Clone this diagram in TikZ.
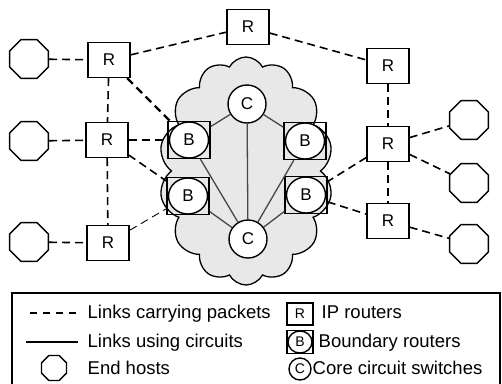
\documentclass[tikz,border=0pt]{standalone}
\usepackage{fontspec}
\setmainfont{Liberation Sans}
\usetikzlibrary{shapes.geometric,shapes.symbols}

\begin{document}
\begin{tikzpicture}[x=1pt,y=-1pt,line width=1.4pt,
    host node/.style={regular polygon,regular polygon sides=8,draw,inner sep=0pt,minimum size=42pt},
    router node/.style={rectangle,draw,fill=white,inner sep=0pt,minimum width=42pt,minimum height=35pt,
                        font=\fontsize{17}{17}\selectfont},
    boundary node/.style={rectangle,draw,inner sep=0pt,minimum width=42pt,minimum height=37pt,
                          font=\fontsize{17}{17}\selectfont,
                          path picture={\draw[fill=white] (path picture bounding box.center) ellipse (19.5pt and 18pt);}},
    core node/.style={circle,draw,fill=white,inner sep=0pt,minimum size=38pt,font=\fontsize{17}{17}\selectfont},
    packet/.style={dash pattern=on 8pt off 5pt,line width=1.6pt},
    circuit/.style={draw=black!72,line width=1.3pt},
    key text/.style={anchor=base west,inner sep=0pt,font=\fontsize{18.5}{18.5}\selectfont}]

  \useasboundingbox (0,0) rectangle (502,383);

  % circuit cloud
  \node[cloud,cloud puffs=14,cloud puff arc=125,cloud ignores aspect,draw,fill=black!9,line width=1.3pt,
        minimum width=174pt,minimum height=228pt] (cloud) at (246,171) {};

  % end hosts
  \node[host node] (hostA) at (29,59) {};
  \node[host node] (hostB) at (29,141) {};
  \node[host node] (hostC) at (29,242) {};
  \node[host node] (hostD) at (469,120) {};
  \node[host node] (hostE) at (469,183) {};
  \node[host node] (hostF) at (469,244) {};

  % IP routers
  \node[router node] (rT) at (248,27) {R};
  \node[router node] (rA) at (109,60) {R};
  \node[router node] (rB) at (107,140) {R};
  \node[router node] (rC) at (108,243) {R};
  \node[router node] (rD) at (388,66) {R};
  \node[router node] (rE) at (388,144) {R};
  \node[router node] (rF) at (388,221) {R};

  % boundary routers and core switches
  \node[boundary node] (bA) at (189,140) {B};
  \node[boundary node] (bB) at (188,196) {B};
  \node[boundary node] (bC) at (305,141) {B};
  \node[boundary node] (bD) at (306,195) {B};
  \node[core node] (cA) at (247,104) {C};
  \node[core node] (cB) at (248,239) {C};

  \path[circuit]
    (cA) edge (bA)
         edge (bC)
         edge (cB)
    (cB) edge (bA)
         edge (bB)
         edge (bC)
         edge (bD);

  \path[packet]
    (hostA) edge (rA)
    (rA) edge (rT)
         edge (rB)
         edge[line width=2.2pt] (bA)
    (hostB) edge (rB)
    (rB) edge (bA)
         edge (bB)
         edge (rC)
    (hostC) edge (rC)
    (rC) edge[line width=0.9pt] (bB)
    (rT) edge (rD)
    (rD) edge (rE)
    (rE) edge (bD)
         edge (rF)
         edge (hostD)
         edge (hostE)
    (bD) edge (rF)
    (rF) edge (hostF);

  % legend
  \draw[line width=1.2pt] (12,386) -- (12,293) -- (500,293) -- (500,386);

  \coordinate (keyA) at (30,313);
  \coordinate (keyB) at (78,313);
  \coordinate (keyC) at (26,342);
  \coordinate (keyD) at (78,342);
  \draw[dash pattern=on 7pt off 6pt,line width=1.3pt] (keyA) -- (keyB);
  \draw[line width=1.3pt] (keyC) -- (keyD);
  \node[host node,minimum size=27pt] (keyhost) at (54,368) {};
  \node[key text] (lblA) at (87,318) {Links carrying packets};
  \node[key text] (lblB) at (87,347) {Links using circuits};
  \node[key text] (lblC) at (87,374) {End hosts};

  \node[router node,minimum width=26pt,minimum height=22pt,font=\fontsize{14}{14}\selectfont] (keyR) at (300,314) {R};
  \node[boundary node,minimum width=26pt,minimum height=23pt,font=\fontsize{14}{14}\selectfont,
        path picture={\draw[fill=white] (path picture bounding box.center) ellipse (12pt and 11pt);}] (keyB) at (300,342) {B};
  \node[core node,minimum size=22pt,font=\fontsize{14}{14}\selectfont] (keyC) at (300,369) {C};
  \node[key text] (lblD) at (321,318) {IP routers};
  \node[key text] (lblE) at (318,347) {Boundary routers};
  \node[key text] (lblF) at (312,374) {Core circuit switches};
\end{tikzpicture}
\end{document}
